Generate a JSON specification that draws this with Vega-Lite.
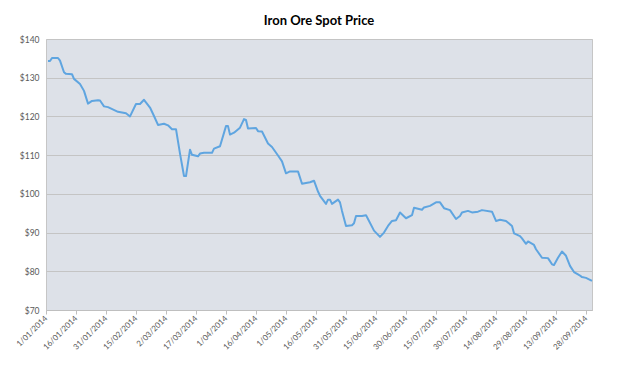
{
  "$schema": "https://vega.github.io/schema/vega-lite/v6.json",
  "width": 546,
  "height": 271,
  "autosize": {"type": "none"},
  "padding": {"left": 46, "top": 39, "right": 32, "bottom": 56},
  "background": "#ffffff",
  "title": {
    "text": "Iron Ore Spot Price",
    "font": "Lato",
    "fontSize": 13,
    "fontWeight": "bold",
    "color": "#000000",
    "anchor": "middle",
    "frame": "group",
    "offset": 7
  },
  "config": {
    "view": {"fill": "#DDE1E8", "stroke": "#C6C6C6", "strokeWidth": 1},
    "axis": {"labelFont": "Lato", "labelColor": "#595959", "labelFontSize": 8.5}
  },
  "data": {
    "values": [
      {"date": "2014-01-02", "price": 134.3},
      {"date": "2014-01-03", "price": 134.3},
      {"date": "2014-01-04", "price": 135.1},
      {"date": "2014-01-07", "price": 135.1},
      {"date": "2014-01-08", "price": 134.4},
      {"date": "2014-01-10", "price": 131.4},
      {"date": "2014-01-11", "price": 131.0},
      {"date": "2014-01-14", "price": 130.9},
      {"date": "2014-01-15", "price": 129.7},
      {"date": "2014-01-18", "price": 128.4},
      {"date": "2014-01-20", "price": 126.6},
      {"date": "2014-01-22", "price": 123.3},
      {"date": "2014-01-24", "price": 124.0},
      {"date": "2014-01-27", "price": 124.2},
      {"date": "2014-01-28", "price": 124.1},
      {"date": "2014-01-30", "price": 122.6},
      {"date": "2014-02-01", "price": 122.4},
      {"date": "2014-02-06", "price": 121.2},
      {"date": "2014-02-10", "price": 120.8},
      {"date": "2014-02-12", "price": 120.0},
      {"date": "2014-02-15", "price": 123.2},
      {"date": "2014-02-17", "price": 123.2},
      {"date": "2014-02-19", "price": 124.3},
      {"date": "2014-02-22", "price": 122.3},
      {"date": "2014-02-24", "price": 120.1},
      {"date": "2014-02-26", "price": 117.8},
      {"date": "2014-03-01", "price": 118.1},
      {"date": "2014-03-03", "price": 117.7},
      {"date": "2014-03-05", "price": 116.7},
      {"date": "2014-03-07", "price": 116.7},
      {"date": "2014-03-09", "price": 110.4},
      {"date": "2014-03-11", "price": 104.6},
      {"date": "2014-03-12", "price": 104.6},
      {"date": "2014-03-14", "price": 111.4},
      {"date": "2014-03-15", "price": 110.1},
      {"date": "2014-03-18", "price": 109.7},
      {"date": "2014-03-19", "price": 110.4},
      {"date": "2014-03-21", "price": 110.6},
      {"date": "2014-03-25", "price": 110.6},
      {"date": "2014-03-26", "price": 111.7},
      {"date": "2014-03-29", "price": 112.3},
      {"date": "2014-04-01", "price": 117.5},
      {"date": "2014-04-02", "price": 117.5},
      {"date": "2014-04-03", "price": 115.3},
      {"date": "2014-04-05", "price": 115.8},
      {"date": "2014-04-08", "price": 117.1},
      {"date": "2014-04-10", "price": 119.3},
      {"date": "2014-04-11", "price": 119.1},
      {"date": "2014-04-12", "price": 116.9},
      {"date": "2014-04-16", "price": 117.0},
      {"date": "2014-04-17", "price": 116.2},
      {"date": "2014-04-19", "price": 116.1},
      {"date": "2014-04-22", "price": 113.0},
      {"date": "2014-04-24", "price": 112.1},
      {"date": "2014-04-27", "price": 109.9},
      {"date": "2014-04-29", "price": 108.4},
      {"date": "2014-05-01", "price": 105.3},
      {"date": "2014-05-03", "price": 105.8},
      {"date": "2014-05-07", "price": 105.8},
      {"date": "2014-05-09", "price": 102.6},
      {"date": "2014-05-13", "price": 103.0},
      {"date": "2014-05-15", "price": 103.4},
      {"date": "2014-05-17", "price": 100.6},
      {"date": "2014-05-18", "price": 99.5},
      {"date": "2014-05-21", "price": 97.4},
      {"date": "2014-05-22", "price": 98.5},
      {"date": "2014-05-23", "price": 98.5},
      {"date": "2014-05-24", "price": 97.4},
      {"date": "2014-05-27", "price": 98.5},
      {"date": "2014-05-28", "price": 97.8},
      {"date": "2014-05-29", "price": 95.6},
      {"date": "2014-05-31", "price": 91.7},
      {"date": "2014-06-03", "price": 91.9},
      {"date": "2014-06-04", "price": 92.4},
      {"date": "2014-06-05", "price": 94.3},
      {"date": "2014-06-08", "price": 94.3},
      {"date": "2014-06-10", "price": 94.5},
      {"date": "2014-06-11", "price": 93.5},
      {"date": "2014-06-14", "price": 90.5},
      {"date": "2014-06-17", "price": 88.9},
      {"date": "2014-06-19", "price": 90.0},
      {"date": "2014-06-21", "price": 91.7},
      {"date": "2014-06-23", "price": 93.0},
      {"date": "2014-06-25", "price": 93.2},
      {"date": "2014-06-27", "price": 95.2},
      {"date": "2014-06-30", "price": 93.7},
      {"date": "2014-07-03", "price": 94.5},
      {"date": "2014-07-04", "price": 96.4},
      {"date": "2014-07-08", "price": 95.9},
      {"date": "2014-07-09", "price": 96.5},
      {"date": "2014-07-12", "price": 96.9},
      {"date": "2014-07-15", "price": 97.8},
      {"date": "2014-07-17", "price": 97.8},
      {"date": "2014-07-19", "price": 96.3},
      {"date": "2014-07-22", "price": 95.8},
      {"date": "2014-07-25", "price": 93.5},
      {"date": "2014-07-27", "price": 94.3},
      {"date": "2014-07-28", "price": 95.2},
      {"date": "2014-07-31", "price": 95.6},
      {"date": "2014-08-02", "price": 95.2},
      {"date": "2014-08-05", "price": 95.4},
      {"date": "2014-08-07", "price": 95.8},
      {"date": "2014-08-12", "price": 95.4},
      {"date": "2014-08-14", "price": 93.0},
      {"date": "2014-08-16", "price": 93.3},
      {"date": "2014-08-19", "price": 93.0},
      {"date": "2014-08-22", "price": 91.7},
      {"date": "2014-08-23", "price": 89.8},
      {"date": "2014-08-26", "price": 89.1},
      {"date": "2014-08-27", "price": 88.5},
      {"date": "2014-08-29", "price": 87.1},
      {"date": "2014-08-30", "price": 87.7},
      {"date": "2014-09-02", "price": 86.8},
      {"date": "2014-09-03", "price": 85.7},
      {"date": "2014-09-06", "price": 83.5},
      {"date": "2014-09-09", "price": 83.4},
      {"date": "2014-09-11", "price": 81.8},
      {"date": "2014-09-12", "price": 81.6},
      {"date": "2014-09-14", "price": 83.5},
      {"date": "2014-09-16", "price": 85.1},
      {"date": "2014-09-18", "price": 84.0},
      {"date": "2014-09-20", "price": 81.4},
      {"date": "2014-09-22", "price": 79.8},
      {"date": "2014-09-24", "price": 79.2},
      {"date": "2014-09-25", "price": 78.9},
      {"date": "2014-09-26", "price": 78.5},
      {"date": "2014-09-28", "price": 78.3},
      {"date": "2014-10-01", "price": 77.5}
    ]
  },
  "mark": {"type": "line", "color": "#5FA5E0", "strokeWidth": 2, "strokeJoin": "round"},
  "encoding": {
    "x": {
      "field": "date",
      "type": "temporal",
      "title": null,
      "scale": {
        "type": "utc",
        "domain": [
          {"year": 2014, "month": 1, "date": 1, "utc": true},
          {"year": 2014, "month": 10, "date": 1, "utc": true}
        ]
      },
      "axis": {
        "values": [
          {"year": 2014, "month": 1, "date": 1, "utc": true},
          {"year": 2014, "month": 1, "date": 16, "utc": true},
          {"year": 2014, "month": 1, "date": 31, "utc": true},
          {"year": 2014, "month": 2, "date": 15, "utc": true},
          {"year": 2014, "month": 3, "date": 2, "utc": true},
          {"year": 2014, "month": 3, "date": 17, "utc": true},
          {"year": 2014, "month": 4, "date": 1, "utc": true},
          {"year": 2014, "month": 4, "date": 16, "utc": true},
          {"year": 2014, "month": 5, "date": 1, "utc": true},
          {"year": 2014, "month": 5, "date": 16, "utc": true},
          {"year": 2014, "month": 5, "date": 31, "utc": true},
          {"year": 2014, "month": 6, "date": 15, "utc": true},
          {"year": 2014, "month": 6, "date": 30, "utc": true},
          {"year": 2014, "month": 7, "date": 15, "utc": true},
          {"year": 2014, "month": 7, "date": 30, "utc": true},
          {"year": 2014, "month": 8, "date": 14, "utc": true},
          {"year": 2014, "month": 8, "date": 29, "utc": true},
          {"year": 2014, "month": 9, "date": 13, "utc": true},
          {"year": 2014, "month": 9, "date": 28, "utc": true}
        ],
        "labelExpr": "utcFormat(datum.value, '%-d/%m/%Y')",
        "labelAngle": -45,
        "labelAlign": "right",
        "labelBaseline": "middle",
        "labelFontSize": 8,
        "labelPadding": 3,
        "labelOverlap": false,
        "labelBound": false,
        "labelFlush": false,
        "grid": false,
        "ticks": true,
        "tickSize": 4,
        "tickColor": "#BFBFBF",
        "domainColor": "#BFBFBF",
        "domainWidth": 1
      }
    },
    "y": {
      "field": "price",
      "type": "quantitative",
      "title": null,
      "scale": {"domain": [70, 140], "nice": false, "zero": false},
      "axis": {
        "values": [70, 80, 90, 100, 110, 120, 130, 140],
        "labelExpr": "'$' + datum.value",
        "ticks": false,
        "domain": false,
        "labelPadding": 7,
        "grid": true,
        "gridColor": "#C4C4C4",
        "gridWidth": 1
      }
    }
  }
}
